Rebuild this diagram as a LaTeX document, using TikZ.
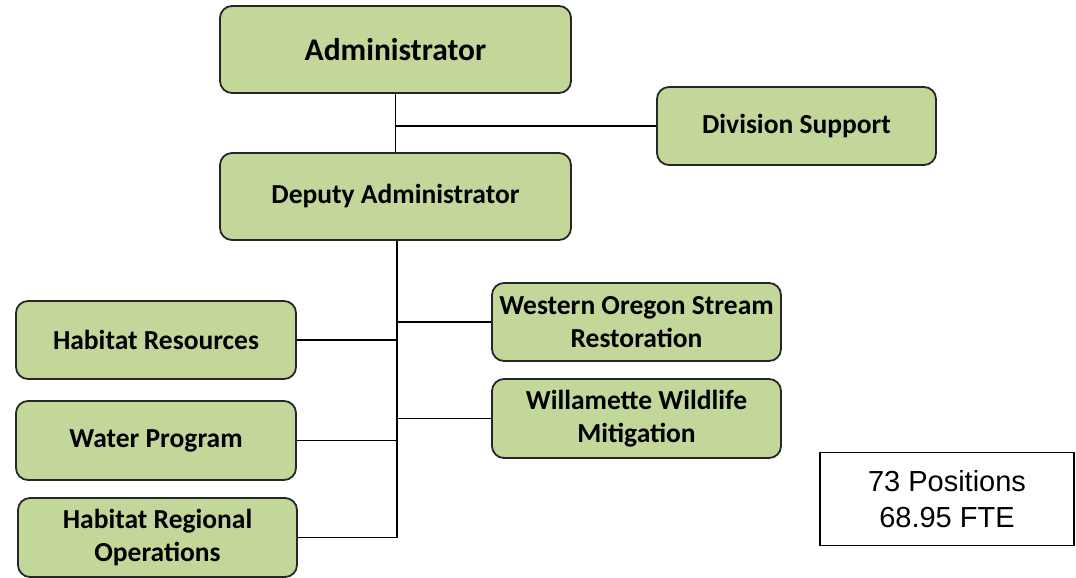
\documentclass[tikz,border=0pt]{standalone}
\usepackage{fontspec}
\setmainfont{Carlito}
\newfontfamily\infofont{Liberation Sans}
\usepackage{tikz}

\definecolor{unitgreen}{HTML}{C4D79B}
\definecolor{unitline}{HTML}{262626}

\tikzset{
  unit/.style={draw=unitline, line width=1.8pt, fill=unitgreen, rounded corners=12pt,
    align=center, font=\bfseries\fontsize{27.5}{33}\selectfont, inner sep=0pt},
  infobox/.style={draw=black, line width=1.8pt, fill=white, align=center,
    font=\infofont\fontsize{29}{36}\selectfont, inner sep=0pt},
  link/.style={draw=black, line width=1.5pt}
}

\begin{document}
\begin{tikzpicture}[x=1pt,y=-1pt]
\useasboundingbox (0,0) rectangle (1076,578);
% top of the chart
\node[unit, minimum width=351pt, minimum height=87pt, font=\bfseries\fontsize{31.5}{36}\selectfont] (admin) at (395.5,49.5) {Administrator};
\node[unit, minimum width=279pt, minimum height=78pt] (divsup) at (796.5,126) {Division Support};
\node[unit, minimum width=351pt, minimum height=87pt] (deputy) at (395.5,196.5) {Deputy Administrator};
% left column
\node[unit, minimum width=280pt, minimum height=78pt] (habres) at (156,340) {Habitat Resources};
\node[unit, minimum width=280pt, minimum height=79pt] (water) at (156,440.5) {Water Program};
\node[unit, minimum width=279pt, minimum height=79pt] (habreg) at (157.5,537.5) {Habitat Regional\\Operations};
% right column
\node[unit, minimum width=289pt, minimum height=78pt] (stream) at (636.5,322) {Western Oregon Stream\\Restoration};
\node[unit, minimum width=289pt, minimum height=79pt] (wildlife) at (636.5,418.5) {Willamette Wildlife\\Mitigation};
% totals
\node[infobox, minimum width=254pt, minimum height=93pt] (totals) at (947,499) {73 Positions\\68.95 FTE};

\coordinate (trunk) at ([xshift=1.5pt]deputy.south);
\draw[link] (admin.south) -- (deputy.north);
\draw[link] (admin.south |- divsup.west) -- (divsup.west);
\draw[link] (trunk) -- (trunk |- habreg.east);
\draw[link] (habres.east) -- (trunk |- habres.east);
\draw[link] (water.east) -- (trunk |- water.east);
\draw[link] (habreg.east) -- (trunk |- habreg.east);
\draw[link] (trunk |- stream.west) -- (stream.west);
\draw[link] (trunk |- wildlife.west) -- (wildlife.west);
\end{tikzpicture}
\end{document}
